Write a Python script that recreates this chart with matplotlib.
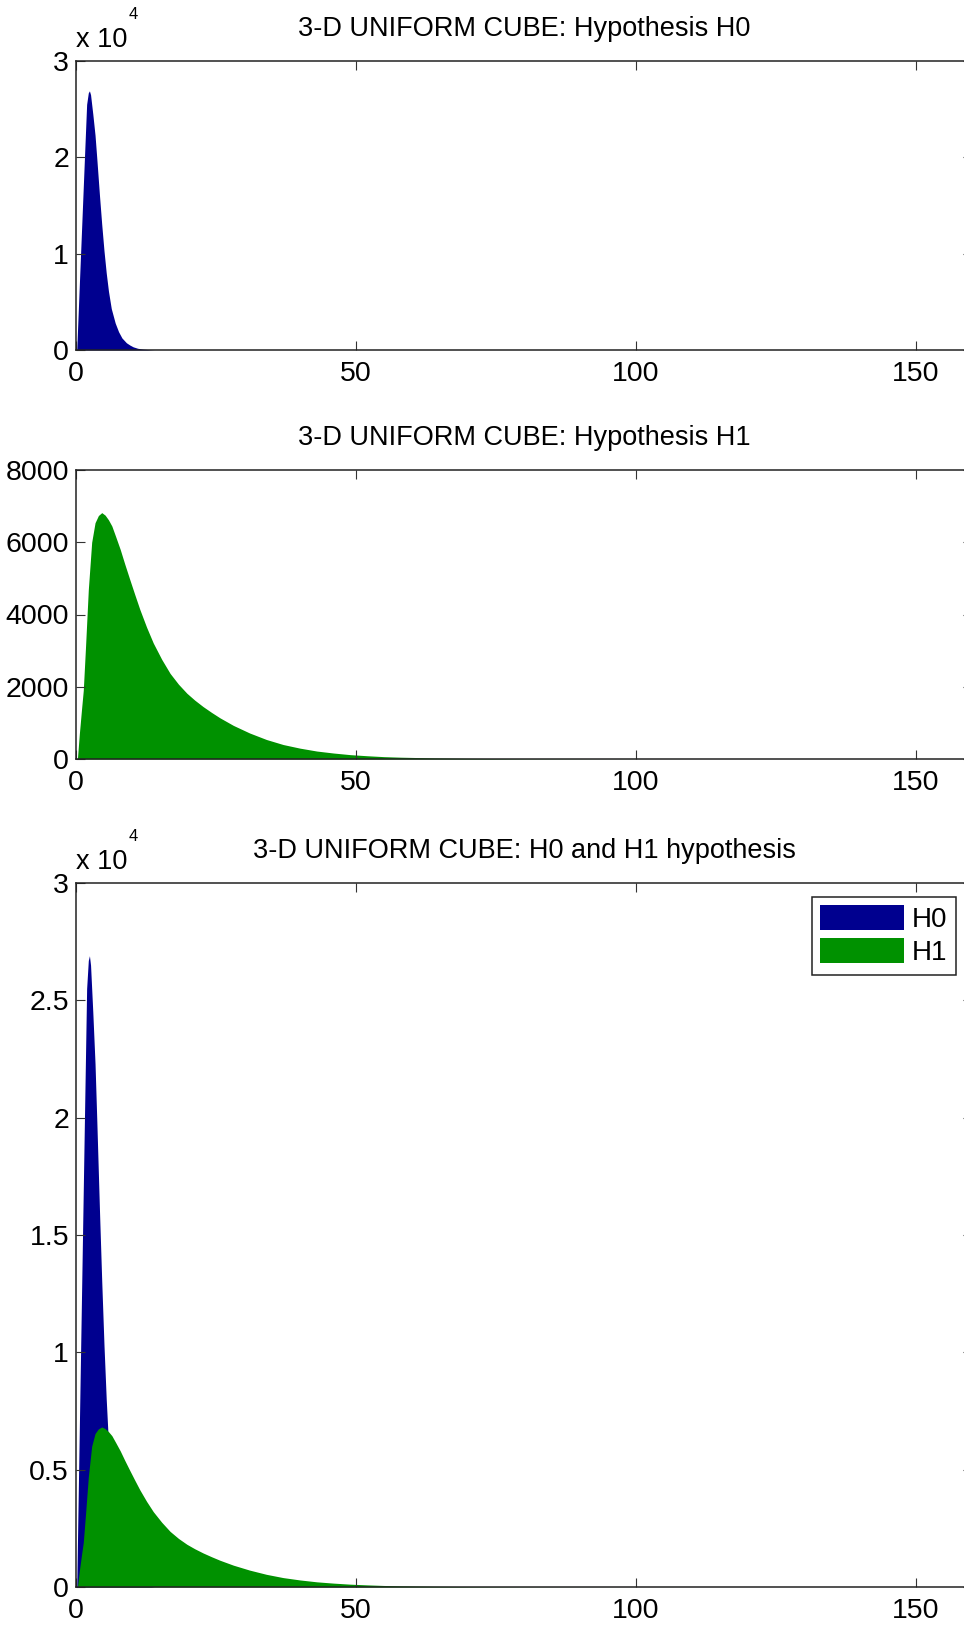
import numpy as np
import matplotlib
matplotlib.use('Agg')
import matplotlib.pyplot as plt

# histogram outlines (bin centre, count)
h0_x = [0, 0.13, 0.5, 1.0, 1.5, 1.9, 2.2, 2.4, 2.6, 3.0, 3.4, 3.7, 4.2, 4.6, 5.0,
        5.4, 5.8, 6.3, 7.0, 7.6, 8.2, 9.0, 9.6, 10.2, 11.0, 12.0, 13.2, 14.0]
h0_counts = [0, 0, 5400, 12600, 19800, 25500, 26700, 26900, 26500, 24500, 22300, 20000,
             16000, 13000, 10300, 8000, 6100, 4300, 2800, 1900, 1250, 750, 520, 330,
             180, 90, 30, 0]

h1_x = [0, 0.25, 0.6, 1.0, 1.3, 1.7, 2.2, 2.8, 3.4, 4.0, 4.6, 5.2, 5.8, 6.4, 7.1, 7.9,
        8.7, 9.6, 10.5, 11.4, 12.6, 13.8, 15.3, 16.8, 18.3, 19.8, 21.2, 22.7, 24.2,
        25.7, 28.1, 31, 34, 37, 40, 43, 46, 49, 52, 55, 58, 64, 70, 80, 90, 100, 110]
h1_counts = [0, 0, 700, 1400, 1900, 3100, 4690, 6000, 6540, 6740, 6820, 6750, 6620,
             6450, 6150, 5800, 5400, 4970, 4550, 4140, 3650, 3210, 2760, 2370, 2070,
             1820, 1630, 1450, 1290, 1140, 930, 720, 540, 400, 300, 220, 165, 120, 90,
             65, 50, 30, 18, 8, 4, 1, 0]

titles = ['3-D UNIFORM CUBE: Hypothesis H0',
          '3-D UNIFORM CUBE: Hypothesis H1',
          '3-D UNIFORM CUBE: H0 and H1 hypothesis']
x_ticks = [0, 50, 100, 150]
h0_color = '#00008F'
h1_color = '#009100'

plt.rcParams['font.family'] = ['Liberation Sans', 'DejaVu Sans']

W, H = 964, 1627
fig = plt.figure(figsize=(W / 100, H / 100), dpi=100)


def make_axes(top_px, bottom_px):
    # right edge sits past the figure border, as in the cropped original
    left, right = 76, 972
    return fig.add_axes([left / W, 1 - bottom_px / H, (right - left) / W, (bottom_px - top_px) / H])


def style(ax, title, yticks, ylabels, ymax, exponent=False):
    ax.set_xlim(0, 160)
    ax.set_ylim(0, ymax)
    ax.set_xticks(x_ticks)
    ax.set_yticks(yticks)
    ax.set_yticklabels(ylabels)
    ax.tick_params(direction='in', length=6.5, width=0.8, top=True, right=True,
                   labelsize=20.5, pad=5, color='#333333')
    ax.tick_params(axis='x', pad=8)
    for s in ax.spines.values():
        s.set_linewidth(1.1)
        s.set_color('#222222')
    ax.set_title(title, fontsize=19.5, pad=18)
    if exponent:
        ax.annotate('x 10', xy=(0, 1), xycoords='axes fraction', xytext=(0, 10),
                    textcoords='offset points', fontsize=19.5, ha='left', va='baseline')
        ax.annotate('4', xy=(0, 1), xycoords='axes fraction', xytext=(38, 30),
                    textcoords='offset points', fontsize=12, ha='left', va='baseline')


# top: H0
ax1 = make_axes(61, 350)
ax1.fill_between(h0_x, h0_counts, color=h0_color, lw=0)
style(ax1, titles[0], [0, 10000, 20000, 30000], ['0', '1', '2', '3'], 30000, exponent=True)

# middle: H1
ax2 = make_axes(470, 759)
ax2.fill_between(h1_x, h1_counts, color=h1_color, lw=0)
style(ax2, titles[1], [0, 2000, 4000, 6000, 8000], ['0', '2000', '4000', '6000', '8000'], 8000)

# bottom: both
ax3 = make_axes(883, 1587)
ax3.fill_between(h0_x, h0_counts, color=h0_color, lw=0, label='H0')
ax3.fill_between(h1_x, h1_counts, color=h1_color, lw=0, label='H1')
style(ax3, titles[2], [0, 5000, 10000, 15000, 20000, 25000, 30000],
      ['0', '0.5', '1', '1.5', '2', '2.5', '3'], 30000, exponent=True)
leg = ax3.legend(loc='upper right', bbox_to_anchor=(955.7 / W, 1 - 897 / H),
                 bbox_transform=fig.transFigure, borderaxespad=0, fontsize=20,
                 handlelength=3.0, handleheight=1.0, labelspacing=0.18,
                 handletextpad=0.3, borderpad=0.3, fancybox=False, framealpha=1)
leg.get_frame().set_edgecolor('#222222')
leg.get_frame().set_linewidth(1.1)

fig.savefig('out.png', dpi=100)
